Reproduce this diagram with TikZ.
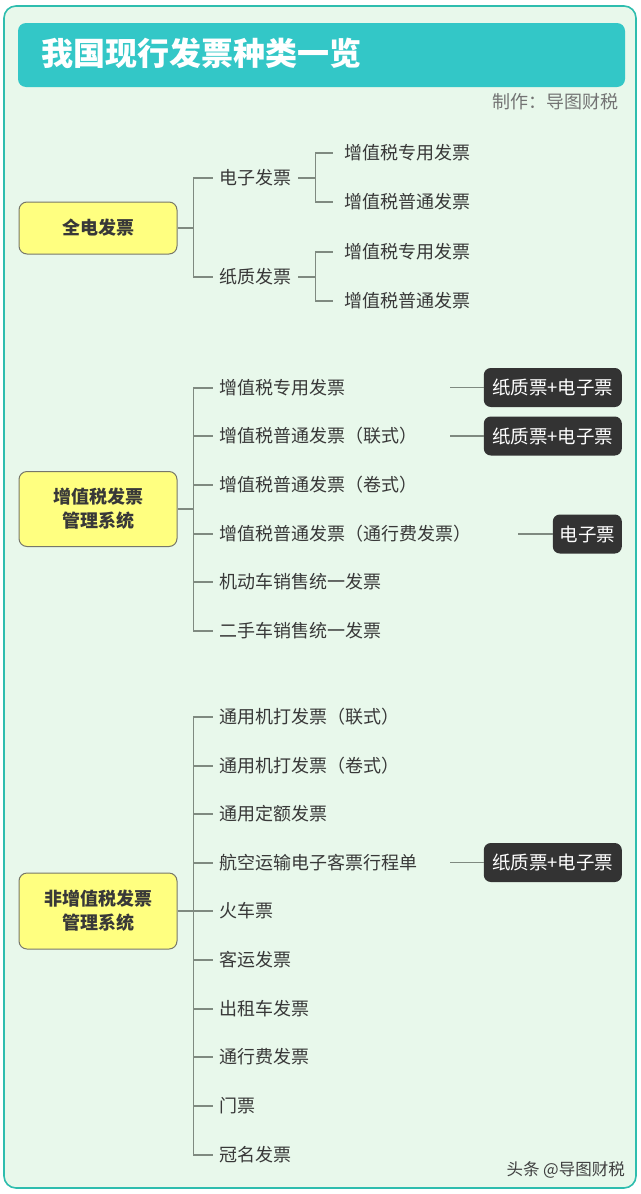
\documentclass[tikz,border=0pt]{standalone}
\usepackage{fontspec}
\setmainfont{Noto Sans CJK SC}
\usetikzlibrary{calc}
\definecolor{bgc}{HTML}{E8F8EB}
\definecolor{framec}{HTML}{2EBDAE}
\definecolor{headc}{HTML}{33C7C7}
\definecolor{linec}{HTML}{7F8A80}
\definecolor{txtc}{HTML}{383838}
\definecolor{boxc}{HTML}{FFFF80}
\definecolor{boxb}{HTML}{77776A}
\definecolor{tagc}{HTML}{333333}
\begin{document}
\begin{tikzpicture}[x=1pt,y=-1pt,
  conn/.style={draw=linec,line width=1.3pt},
  rootbox/.style={draw=boxb,fill=boxc,rounded corners=8pt,line width=1pt,minimum width=158pt,align=center,font=\bfseries\fontsize{18}{24}\selectfont,text=txtc},
  item/.style={anchor=west,inner sep=0pt,font=\fontsize{18}{22}\selectfont,text=txtc},
  tagbox/.style={fill=tagc,rounded corners=7pt,text=white,inner sep=0pt,minimum height=39pt,font=\fontsize{18.5}{22}\selectfont,anchor=east}]
\useasboundingbox (0,0) rectangle (640,1194);
\fill[white] (0,0) rectangle (640,1194);
\draw[fill=bgc,draw=framec,line width=1.6pt,rounded corners=12pt] (4,6) rectangle (636,1188);
\fill[headc,rounded corners=8pt] (18,23) rectangle (625,87);
\node[anchor=west,inner sep=0pt,text=white,font=\bfseries\fontsize{32}{38}\selectfont] (title) at (41,53) {我国现行发票种类一览};
\node[anchor=east,inner sep=0pt,text=black!55,font=\fontsize{18}{22}\selectfont] (maker) at (619,102) {制作：导图财税};
% Section 1
\node[rootbox,minimum height=52pt] (b1) at (98,228) {全电发票};
\node[item] (e1) at (219,178) {电子发票};
\node[item] (p1) at (219,277) {纸质发票};
\node[item] (e1a) at (344,153) {增值税专用发票};
\node[item] (e1b) at (344,202) {增值税普通发票};
\node[item] (p1a) at (344,252) {增值税专用发票};
\node[item] (p1b) at (344,301) {增值税普通发票};
\draw[conn] (b1.east) -- ++(16,0) coordinate (j1);
\foreach \c in {e1,p1}{\draw[conn] (j1) |- ([xshift=-6pt]\c.west);}
\draw[conn] ([xshift=7pt]e1.east) -- ++(17,0) coordinate (j2);
\foreach \c in {e1a,e1b}{\draw[conn] (j2) |- ([xshift=-11pt]\c.west);}
\draw[conn] ([xshift=7pt]p1.east) -- ++(17,0) coordinate (j3);
\foreach \c in {p1a,p1b}{\draw[conn] (j3) |- ([xshift=-11pt]\c.west);}
% Section 2
\node[rootbox,minimum height=75pt] (b2) at (98,509) {增值税发票\\管理系统};
\node[item] (v1) at (219,388) {增值税专用发票};
\node[item] (v2) at (219,436) {增值税普通发票（联式）};
\node[item] (v3) at (219,485) {增值税普通发票（卷式）};
\node[item] (v4) at (219,534) {增值税普通发票（通行费发票）};
\node[item] (v5) at (219,582) {机动车销售统一发票};
\node[item] (v6) at (219,631) {二手车销售统一发票};
\draw[conn] (b2.east) -- ++(16,0) coordinate (j4);
\foreach \c in {v1,v2,v3,v4,v5,v6}{\draw[conn] (j4) |- ([xshift=-6pt]\c.west);}
\node[tagbox,minimum width=138pt] (t1) at (622,387.5) {纸质票+电子票};
\node[tagbox,minimum width=138pt] (t2) at (622,436) {纸质票+电子票};
\node[tagbox,minimum width=69pt] (t3) at (622,534) {电子票};
\coordinate (s1) at (450,387.5);
\coordinate (s2) at (450,436);
\coordinate (s3) at (518,534);
\draw[conn] (s1) -- (t1.west);
\draw[conn] (s2) -- (t2.west);
\draw[conn] (s3) -- (t3.west);
% Section 3
\node[rootbox,minimum height=76pt] (b3) at (98,911) {非增值税发票\\管理系统};
\node[item] (n1) at (219,717) {通用机打发票（联式）};
\node[item] (n2) at (219,766) {通用机打发票（卷式）};
\node[item] (n3) at (219,814) {通用定额发票};
\node[item] (n4) at (219,863) {航空运输电子客票行程单};
\node[item] (n5) at (219,911) {火车票};
\node[item] (n6) at (219,960) {客运发票};
\node[item] (n7) at (219,1009) {出租车发票};
\node[item] (n8) at (219,1057) {通行费发票};
\node[item] (n9) at (219,1106) {门票};
\node[item] (n10) at (219,1155) {冠名发票};
\draw[conn] (b3.east) -- ++(16,0) coordinate (j5);
\foreach \c in {n1,n2,n3,n4,n5,n6,n7,n8,n9,n10}{\draw[conn] (j5) |- ([xshift=-6pt]\c.west);}
\node[tagbox,minimum width=138pt] (t4) at (622,862.5) {纸质票+电子票};
\coordinate (s4) at (450,862.5);
\draw[conn] (s4) -- (t4.west);
% watermark
\node[anchor=east,inner sep=0pt,text=black!75,font=\fontsize{16.5}{20}\selectfont] (wm) at (625,1170) {头条 @导图财税};
\end{tikzpicture}
\end{document}
